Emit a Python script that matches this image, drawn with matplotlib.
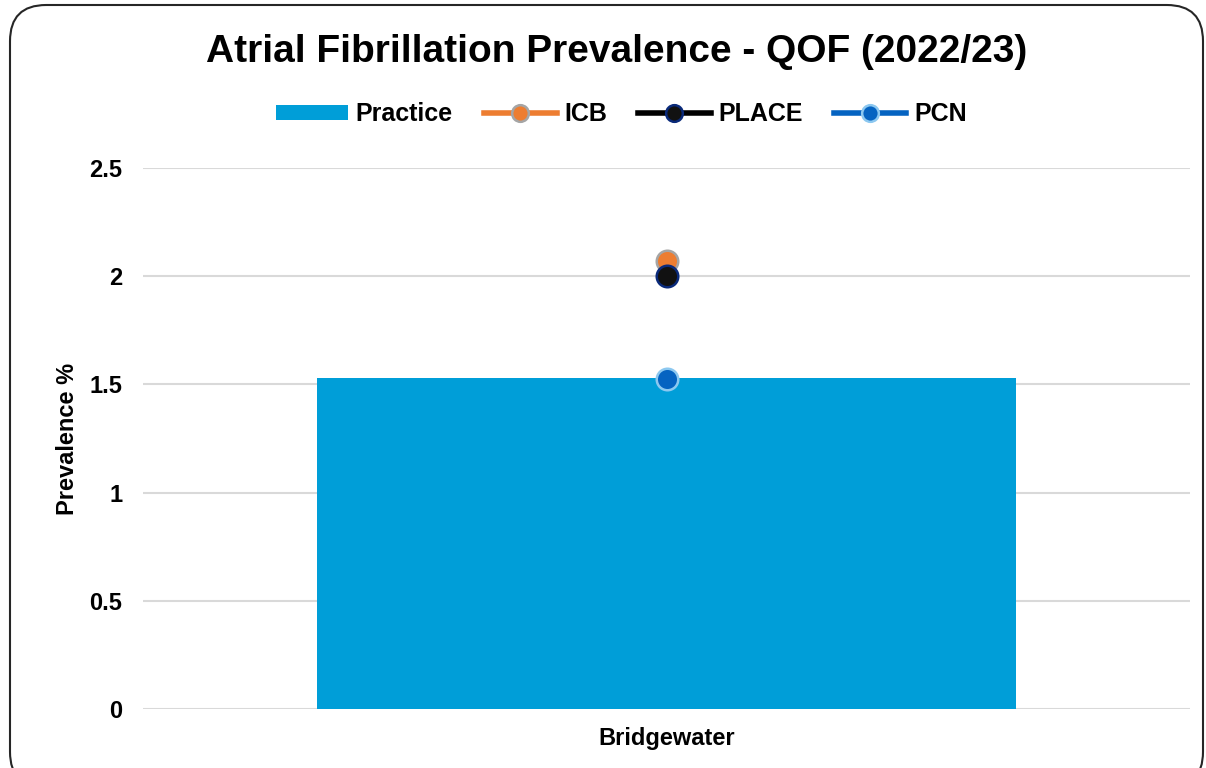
import matplotlib
matplotlib.use("Agg")
import matplotlib.pyplot as plt
from matplotlib.patches import FancyBboxPatch
from matplotlib.lines import Line2D
from matplotlib.patches import Patch

plt.rcParams['font.family'] = ['Liberation Sans', 'DejaVu Sans']
plt.rcParams['font.weight'] = 'bold'

# data
categories = ["Bridgewater"]
practice = [1.53]
icb = [2.07]
place = [2.0]
pcn = [1.525]
yticks = [0, 0.5, 1, 1.5, 2, 2.5]
ytick_labels = ["0", "0.5", "1", "1.5", "2", "2.5"]

fig = plt.figure(figsize=(12.06, 7.68), dpi=100)

# rounded outer frame
frame = FancyBboxPatch((10 / 1206, -20 / 768), 1193 / 1206, 783 / 768,
                       boxstyle="round,pad=0,rounding_size=0.03",
                       transform=fig.transFigure, facecolor="none",
                       edgecolor="#262626", linewidth=1.5, zorder=-1,
                       mutation_aspect=1206 / 768)
fig.patches.append(frame)

ax = fig.add_axes([143 / 1206, 1 - 709 / 768, 1047 / 1206, 541 / 768])
ax.set_facecolor("none")

x = list(range(len(categories)))
ax.bar(x, practice, width=0.667, color="#009ED8", zorder=2)
ax.plot(x, icb, marker="o", markersize=15.5, color="#ED7D31",
        markerfacecolor="#ED7D31", markeredgecolor="#A5A5A5",
        markeredgewidth=1.8, linestyle="none", zorder=3)
ax.plot(x, place, marker="o", markersize=15.5, color="black",
        markerfacecolor="#111111", markeredgecolor="#0A2A7A",
        markeredgewidth=1.8, linestyle="none", zorder=4)
ax.plot(x, pcn, marker="o", markersize=15.5, color="#0563C1",
        markerfacecolor="#0563C1", markeredgecolor="#8CC8F0",
        markeredgewidth=1.8, linestyle="none", zorder=5)

ax.set_xlim(-0.5, 0.5)
ax.set_ylim(0, 2.5)
ax.set_yticks(yticks)
ax.set_yticklabels(ytick_labels, fontsize=17, fontweight="bold")
ax.set_xticks(x)
ax.set_xticklabels(categories, fontsize=17, fontweight="bold")
ax.tick_params(axis="y", length=0, pad=15)
ax.tick_params(axis="x", length=0, pad=13)
ax.grid(axis="y", color="#D9D9D9", linewidth=1.5, zorder=0)
ax.set_axisbelow(True)
for s in ax.spines.values():
    s.set_visible(False)
ax.set_ylabel("Prevalence %", fontsize=17, fontweight="bold", labelpad=7)

fig.text(0.511, 1 - 52 / 768, "Atrial Fibrillation Prevalence - QOF (2022/23)",
         ha="center", va="center", fontsize=28, fontweight="bold")

handles = [
    Patch(facecolor="#009ED8"),
    Line2D([0], [0], color="#ED7D31", lw=4, marker="o", markersize=12,
           markerfacecolor="#ED7D31", markeredgecolor="#A5A5A5", markeredgewidth=1.8),
    Line2D([0], [0], color="black", lw=4, marker="o", markersize=12,
           markerfacecolor="#111111", markeredgecolor="#0A2A7A", markeredgewidth=1.8),
    Line2D([0], [0], color="#0563C1", lw=4, marker="o", markersize=12,
           markerfacecolor="#0563C1", markeredgecolor="#8CC8F0", markeredgewidth=1.8),
]
fig.legend(handles, ["Practice", "ICB", "PLACE", "PCN"], loc="center",
           bbox_to_anchor=(0.515, 1 - 114 / 768), ncol=4, frameon=False,
           prop={"size": 18, "weight": "bold"}, handlelength=2.9,
           handleheight=0.55, handletextpad=0.3, columnspacing=1.25)

fig.savefig("out.png", dpi=100)
